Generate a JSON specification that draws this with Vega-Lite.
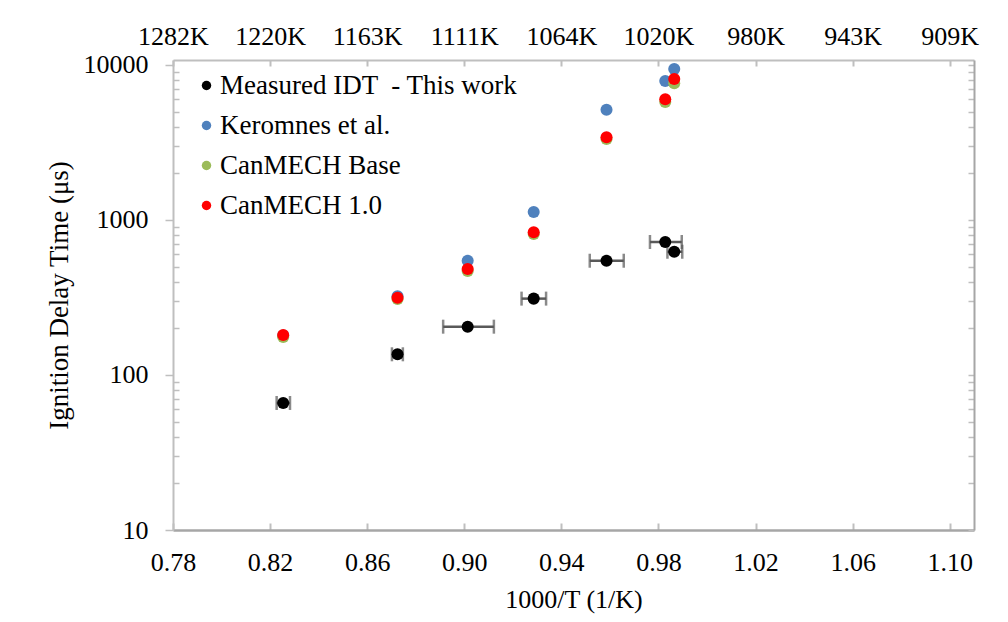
{
  "$schema": "https://vega.github.io/schema/vega-lite/v6.json",
  "width": 801,
  "height": 470,
  "autosize": {"type": "none"},
  "padding": {"left": 173, "top": 60, "right": 34, "bottom": 92},
  "background": "white",
  "config": {
    "view": {"stroke": null},
    "font": "Liberation Serif",
    "axis": {
      "labelFont": "Liberation Serif",
      "titleFont": "Liberation Serif",
      "labelColor": "#000000",
      "titleColor": "#000000",
      "titleFontWeight": "normal",
      "labelFlush": false,
      "labelOverlap": false,
      "grid": false
    },
    "legend": {"labelFont": "Liberation Serif", "labelLimit": 500}
  },
  "datasets": {
    "models": [
      {"series": "Keromnes et al.", "inv_T": 0.8254, "idt": 180},
      {"series": "Keromnes et al.", "inv_T": 0.8725, "idt": 322},
      {"series": "Keromnes et al.", "inv_T": 0.9014, "idt": 546},
      {"series": "Keromnes et al.", "inv_T": 0.9286, "idt": 1126},
      {"series": "Keromnes et al.", "inv_T": 0.9586, "idt": 5147},
      {"series": "Keromnes et al.", "inv_T": 0.9828, "idt": 7884},
      {"series": "Keromnes et al.", "inv_T": 0.9865, "idt": 9420},
      {"series": "CanMECH Base", "inv_T": 0.8254, "idt": 176},
      {"series": "CanMECH Base", "inv_T": 0.8725, "idt": 309},
      {"series": "CanMECH Base", "inv_T": 0.9014, "idt": 469},
      {"series": "CanMECH Base", "inv_T": 0.9286, "idt": 812},
      {"series": "CanMECH Base", "inv_T": 0.9586, "idt": 3332},
      {"series": "CanMECH Base", "inv_T": 0.9828, "idt": 5770},
      {"series": "CanMECH Base", "inv_T": 0.9865, "idt": 7620},
      {"series": "CanMECH 1.0", "inv_T": 0.8254, "idt": 181},
      {"series": "CanMECH 1.0", "inv_T": 0.8725, "idt": 315},
      {"series": "CanMECH 1.0", "inv_T": 0.9014, "idt": 483},
      {"series": "CanMECH 1.0", "inv_T": 0.9286, "idt": 833},
      {"series": "CanMECH 1.0", "inv_T": 0.9586, "idt": 3417},
      {"series": "CanMECH 1.0", "inv_T": 0.9828, "idt": 6006},
      {"series": "CanMECH 1.0", "inv_T": 0.9865, "idt": 8122}
    ],
    "measured": [
      {"series": "Measured IDT \u00a0- This work", "inv_T": 0.8254, "inv_T_lo": 0.8227, "inv_T_hi": 0.8282, "idt": 66},
      {"series": "Measured IDT \u00a0- This work", "inv_T": 0.8725, "inv_T_lo": 0.8702, "inv_T_hi": 0.8747, "idt": 136},
      {"series": "Measured IDT \u00a0- This work", "inv_T": 0.9014, "inv_T_lo": 0.8913, "inv_T_hi": 0.9122, "idt": 205},
      {"series": "Measured IDT \u00a0- This work", "inv_T": 0.9286, "inv_T_lo": 0.9236, "inv_T_hi": 0.9337, "idt": 311},
      {"series": "Measured IDT \u00a0- This work", "inv_T": 0.9586, "inv_T_lo": 0.9517, "inv_T_hi": 0.9657, "idt": 546},
      {"series": "Measured IDT \u00a0- This work", "inv_T": 0.9828, "inv_T_lo": 0.9765, "inv_T_hi": 0.9896, "idt": 721},
      {"series": "Measured IDT \u00a0- This work", "inv_T": 0.9865, "inv_T_lo": 0.9837, "inv_T_hi": 0.9898, "idt": 624}
    ]
  },
  "resolve": {"axis": {"x": "independent", "y": "independent"}},
  "layer": [
    {
      "data": {"name": "models"},
      "mark": {"type": "circle", "size": 145, "opacity": 1},
      "encoding": {
        "x": {
          "field": "inv_T",
          "type": "quantitative",
          "scale": {"domain": [0.78, 1.11], "nice": false, "zero": false},
          "axis": {
            "orient": "bottom",
            "title": "1000/T (1/K)",
            "values": [0.78, 0.82, 0.86, 0.9, 0.94, 0.98, 1.02, 1.06, 1.1],
            "format": ".2f",
            "tickSize": -7,
            "tickWidth": 2,
            "tickColor": "#bfbfbf",
            "domainColor": "#a6a6a6",
            "domainWidth": 2.5,
            "labelFontSize": 26,
            "labelPadding": 26,
            "titleFontSize": 26,
            "titlePadding": 11
          }
        },
        "y": {
          "field": "idt",
          "type": "quantitative",
          "scale": {"type": "log", "domain": [10, 10770], "nice": false},
          "axis": {
            "orient": "left",
            "title": "Ignition Delay Time (μs)",
            "values": [10, 20, 30, 40, 50, 60, 70, 80, 90, 100, 200, 300, 400, 500, 600, 700, 800, 900, 1000, 2000, 3000, 4000, 5000, 6000, 7000, 8000, 9000, 10000],
            "labelExpr": "indexof([10, 100, 1000, 10000], datum.value) >= 0 ? format(datum.value, 'd') : ''",
            "tickSize": {"condition": {"test": "indexof([10, 100, 1000, 10000], datum.value) >= 0", "value": 8}, "value": -6},
            "tickWidth": 1.5,
            "tickColor": "#bfbfbf",
            "domainColor": "#bfbfbf",
            "domainWidth": 2,
            "labelFontSize": 26,
            "labelPadding": 17,
            "titleFontSize": 27,
            "titlePadding": 10
          }
        },
        "color": {
          "field": "series",
          "type": "nominal",
          "scale": {
            "domain": ["Measured IDT \u00a0- This work", "Keromnes et al.", "CanMECH Base", "CanMECH 1.0"],
            "range": ["#000000", "#4f81bd", "#9bbb59", "#ff0000"]
          },
          "legend": {
            "title": null,
            "orient": "none",
            "legendX": 20,
            "legendY": 12,
            "symbolType": "circle",
            "symbolSize": 90,
            "symbolOpacity": 1,
            "labelFontSize": 27,
            "labelOffset": 0,
            "rowPadding": 12
          }
        }
      }
    },
    {
      "data": {"name": "measured"},
      "mark": {
        "type": "errorbar",
        "ticks": {"size": 14, "thickness": 2.5, "color": "#595959"},
        "rule": {"strokeWidth": 2.5, "color": "#595959"}
      },
      "encoding": {
        "x": {"field": "inv_T_lo", "type": "quantitative", "axis": null},
        "x2": {"field": "inv_T_hi"},
        "y": {"field": "idt", "type": "quantitative", "axis": null}
      }
    },
    {
      "data": {"name": "measured"},
      "mark": {"type": "circle", "size": 145, "opacity": 1},
      "encoding": {
        "x": {
          "field": "inv_T",
          "type": "quantitative",
          "axis": {
            "orient": "top",
            "title": null,
            "values": [0.78, 0.82, 0.86, 0.9, 0.94, 0.98, 1.02, 1.06, 1.1],
            "labelExpr": "format(1000 / datum.value, '.0f') + 'K'",
            "tickSize": -6,
            "tickWidth": 2,
            "tickColor": "#bfbfbf",
            "domainColor": "#bfbfbf",
            "domainWidth": 2,
            "labelFontSize": 26,
            "labelPadding": 17
          }
        },
        "y": {
          "field": "idt",
          "type": "quantitative",
          "axis": {
            "orient": "right",
            "title": null,
            "values": [10, 20, 30, 40, 50, 60, 70, 80, 90, 100, 200, 300, 400, 500, 600, 700, 800, 900, 1000, 2000, 3000, 4000, 5000, 6000, 7000, 8000, 9000, 10000],
            "labels": false,
            "tickSize": -6,
            "tickWidth": 1.5,
            "tickColor": "#bfbfbf",
            "domainColor": "#a6a6a6",
            "domainWidth": 2
          }
        },
        "color": {
          "field": "series",
          "type": "nominal",
          "legend": {
            "title": null,
            "orient": "none",
            "legendX": 20,
            "legendY": 12,
            "symbolType": "circle",
            "symbolSize": 90,
            "symbolOpacity": 1,
            "labelFontSize": 27,
            "labelOffset": 0,
            "rowPadding": 12
          }
        }
      }
    }
  ]
}
